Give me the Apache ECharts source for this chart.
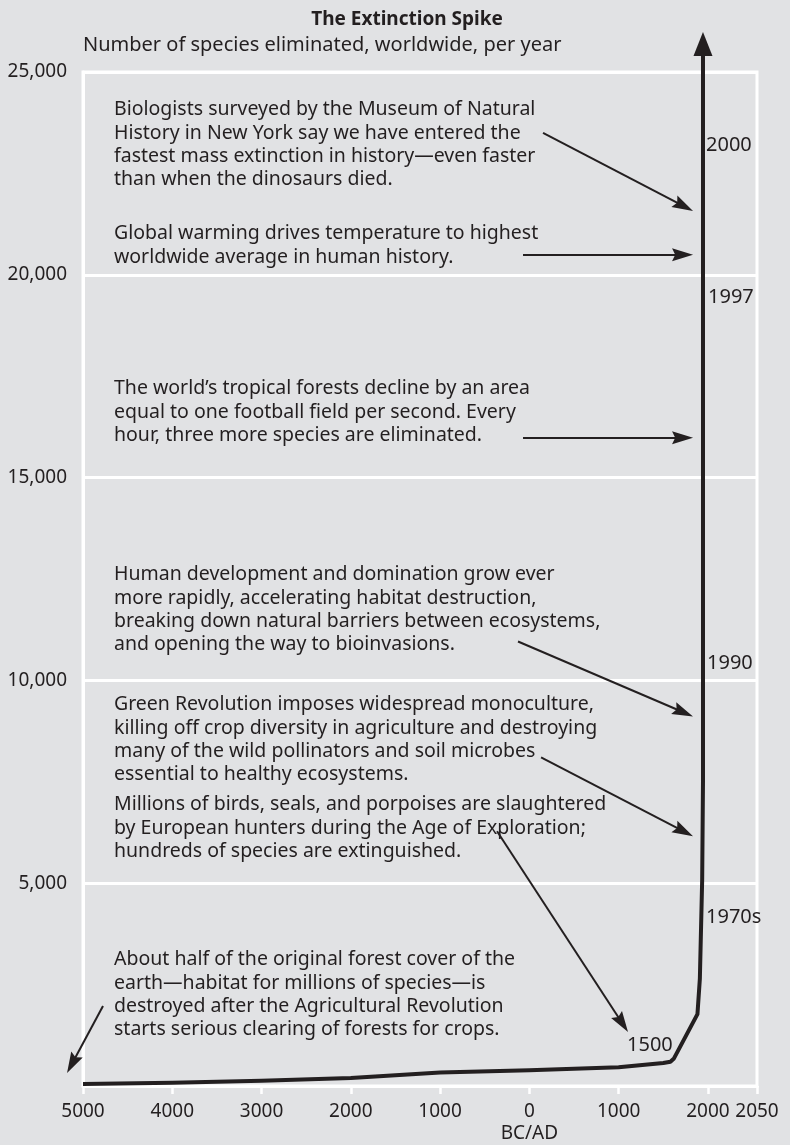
<!DOCTYPE html>
<html>
<head>
<meta charset="utf-8">
<script src="https://cdn.jsdelivr.net/npm/echarts@6/dist/echarts.min.js"></script>
<style>
  html, body { margin: 0; padding: 0; background: #e1e2e4; }
  #main { width: 790px; height: 1145px; }
</style>
</head>
<body>
<div id="main"></div>
<script>
// tick years on the x axis (the last 50 years get their own short step)
const tickYears = [-5000, -4000, -3000, -2000, -1000, 0, 1000, 2000, 2050];
const tickLabels = ["5000", "4000", "3000", "2000", "1000", "0\nBC/AD", "1000", "2000", "2050"];

// species eliminated per year
const curveYears = [-5000, -4000, -3000, -2000, -1000, 0, 1000, 1500, 1580, 1620, 1883, 1910, 1936, 1945, 1945];
const curveValues = [50, 80, 130, 195, 330, 390, 460, 565, 600, 680, 1773, 2650, 5100, 7500, 25500];

// annotation arrows: [fromYear, fromValue, toYear, toValue]
const arrows = [
  [153, 23497, 1729, 21694],
  [-71, 20492, 1716, 20492],
  [-71, 15985, 1716, 15985],
  [-127, 10960, 1725, 9214],
  [131, 8103, 1729, 6276],
  [-362, 6281, 1041, 1547],
  [-4776, 1970, -5123, 549]
];

const notes = [
  "Biologists surveyed by the Museum of Natural\nHistory in New York say we have entered the\nfastest mass extinction in history\u2014even faster\nthan when the dinosaurs died.",
  "Global warming drives temperature to highest\nworldwide average in human history.",
  "The world\u2019s tropical forests decline by an area\nequal to one football field per second. Every\nhour, three more species are eliminated.",
  "Human development and domination grow ever\nmore rapidly, accelerating habitat destruction,\nbreaking down natural barriers between ecosystems,\nand opening the way to bioinvasions.",
  "Green Revolution imposes widespread monoculture,\nkilling off crop diversity in agriculture and destroying\nmany of the wild pollinators and soil microbes\nessential to healthy ecosystems.",
  "Millions of birds, seals, and porpoises are slaughtered\nby European hunters during the Age of Exploration;\nhundreds of species are extinguished.",
  "About half of the original forest cover of the\nearth\u2014habitat for millions of species\u2014is\ndestroyed after the Agricultural Revolution\nstarts serious clearing of forests for crops."
];
const noteTops = [98, 222, 377, 563, 693, 793, 948];

const yearMarks = ["2000", "1997", "1990", "1970s", "1500"];
const yearMarkPos = [[706, 145], [708, 297], [707, 663], [706, 917], [627, 1045]];

const ink = "#231f20";
const font = "Noto Sans";

// year -> position on the axis: 1 unit per 1000 years, 2000-2050 squeezed to 0.55
function yearPos(y) {
  if (y <= 2000) return (y + 5000) / 1000;
  return 7 + (y - 2000) / 50 * 0.55;
}
const tickPos = tickYears.map(yearPos);

var chart = echarts.init(document.getElementById("main"));

var graphics = [];
notes.forEach(function (t, i) {
  graphics.push({
    type: "text", left: 114, top: noteTops[i],
    style: { text: t, fill: ink, font: "19.5px '" + font + "'", lineHeight: 23.3 }
  });
});
yearMarks.forEach(function (t, i) {
  graphics.push({
    type: "text", x: yearMarkPos[i][0], y: yearMarkPos[i][1],
    style: { text: t, fill: ink, font: "20px '" + font + "'", verticalAlign: "middle" }
  });
});

var option = {
  backgroundColor: "#e1e2e4",
  animation: false,
  title: {
    text: "The Extinction Spike",
    left: 402, top: 5, textAlign: "center",
    textStyle: { fontFamily: font, fontSize: 19, fontWeight: "bold", color: ink }
  },
  grid: {
    left: 83, right: 33, top: 72, bottom: 58,
    show: true, borderColor: "#fff", borderWidth: 3, backgroundColor: "transparent"
  },
  xAxis: {
    type: "value", min: 0, max: yearPos(2050),
    axisLine: { show: true, lineStyle: { color: "#fff", width: 3 } },
    axisTick: { show: true, customValues: tickPos, length: 8, lineStyle: { color: "#fff", width: 2.5 } },
    splitLine: { show: false },
    axisLabel: {
      customValues: tickPos, margin: 15, color: ink, fontFamily: font, fontSize: 19, lineHeight: 22,
      formatter: function (v) {
        for (var i = 0; i < tickPos.length; i++) {
          if (Math.abs(tickPos[i] - v) < 1e-6) return tickLabels[i];
        }
        return "";
      }
    }
  },
  yAxis: {
    type: "value", min: 0, max: 25000, interval: 5000,
    name: "Number of species eliminated, worldwide, per year",
    nameLocation: "end", nameGap: 17,
    nameTextStyle: { align: "left", color: ink, fontFamily: font, fontSize: 20 },
    axisLine: { show: true, lineStyle: { color: "#fff", width: 3 } },
    axisTick: { show: false },
    splitLine: { show: true, lineStyle: { color: "#fff", width: 3 } },
    axisLabel: {
      margin: 16, color: ink, fontFamily: font, fontSize: 19,
      formatter: function (v) { return v === 0 ? "" : v.toLocaleString("en-US"); }
    }
  },
  series: [
    {
      type: "line",
      data: curveYears.map(function (y, i) { return [yearPos(y), curveValues[i]]; }),
      symbol: "none", clip: false, z: 5,
      lineStyle: { color: ink, width: 4, join: "round" }
    },
    {
      // top arrow head of the spike
      type: "lines", coordinateSystem: "cartesian2d", clip: false, z: 6,
      symbol: ["none", "triangle"], symbolSize: [0, [19, 24]],
      lineStyle: { color: ink, width: 4, opacity: 1 },
      data: [{ coords: [[yearPos(1945), 25300], [yearPos(1945), 25690]] }]
    },
    {
      type: "lines", coordinateSystem: "cartesian2d", clip: false, z: 6,
      symbol: ["none", "path://M0,0 L7,20 L0,17 L-7,20 Z"], symbolSize: [0, [13, 21]],
      lineStyle: { color: ink, width: 2, opacity: 1 },
      data: arrows.map(function (a) {
        return { coords: [[yearPos(a[0]), a[1]], [yearPos(a[2]), a[3]]] };
      })
    }
  ],
  graphic: graphics
};

chart.setOption(option);
</script>
</body>
</html>
